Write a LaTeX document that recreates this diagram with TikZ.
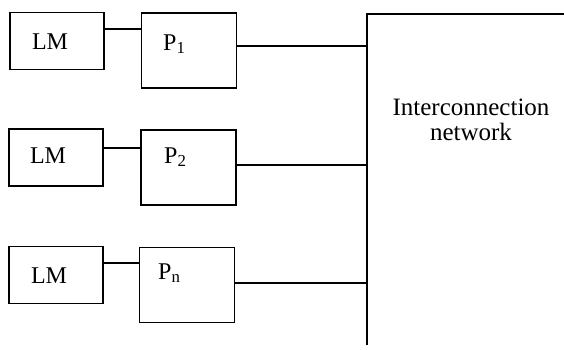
\documentclass[tikz,border=0pt]{standalone}
\usepackage{fontspec}
\setmainfont{Liberation Serif}
\begin{document}
\begin{tikzpicture}[x=1pt,y=-1pt,
  box/.style={draw,line width=1.8pt,inner sep=0pt},
  lmbox/.style={box,minimum width=94pt,minimum height=57pt},
  pbox/.style={box,minimum width=95pt,minimum height=75pt},
  lbl/.style={font=\fontsize{24}{25}\selectfont,inner sep=0pt},
  wire/.style={line width=1.8pt}]
\useasboundingbox (0,0) rectangle (564,349);
% row 1
\node[lmbox] (L1) at (57,41) {};
\node[lbl,anchor=base] (L1t) at (50,49) {LM};
\node[pbox] (P1) at (189,50.5) {};
\node[lbl,anchor=base west] (P1t) at (163,50) {P\textsubscript{1}};
% row 2
\node[lmbox] (L2) at (56,157.5) {};
\node[lbl,anchor=base] (L2t) at (48,163) {LM};
\node[pbox] (P2) at (188.5,167.5) {};
\node[lbl,anchor=base west] (P2t) at (164,163) {P\textsubscript{2}};
% row 3
\node[lmbox] (L3) at (56,275) {};
\node[lbl,anchor=base] (L3t) at (49,283) {LM};
\node[pbox] (P3) at (187,285) {};
\node[lbl,anchor=base west] (P3t) at (158,279) {P\textsubscript{n}};
% network
\coordinate (ntop) at (367,14);
\coordinate (nbot) at (367,345);
\coordinate (nright) at (564,14);
\coordinate (n1) at (367,46);
\coordinate (n2) at (367,165);
\coordinate (n3) at (367,283);
\draw[wire] (nbot) -- (ntop) -- (nright);
\node[font=\fontsize{25}{25}\selectfont,align=center,inner sep=0pt,anchor=base] (net) at (471,140) {Interconnection\\network};
% links
\draw[wire] (L1.east |- 0,29) -- (P1.west |- 0,29);
\draw[wire] (L2.east |- 0,148) -- (P2.west |- 0,148);
\draw[wire] (L3.east |- 0,263) -- (P3.west |- 0,263);
\draw[wire] (P1.east |- n1) -- (n1);
\draw[wire] (P2.east |- n2) -- (n2);
\draw[wire] (P3.east |- n3) -- (n3);
\end{tikzpicture}
\end{document}
